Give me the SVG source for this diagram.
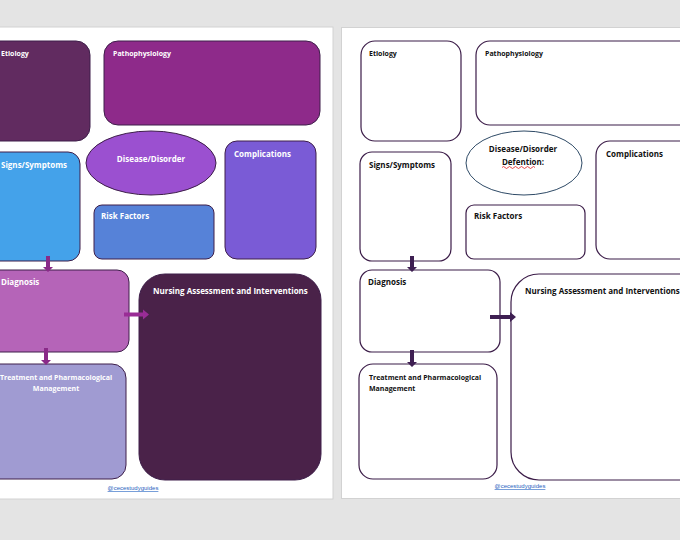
<svg xmlns="http://www.w3.org/2000/svg" width="680" height="540" viewBox="0 0 680 540">
<defs>
<style>
.lbl{font-family:"Open Sans","Liberation Sans",sans-serif;font-weight:bold;font-size:8px;fill:#ffffff}
.lblb{font-family:"Open Sans","Liberation Sans",sans-serif;font-weight:bold;font-size:8px;fill:#111111}
.s{font-size:7px}
.boxL{stroke:#3e1f4a;stroke-width:1}
.boxR{fill:#ffffff;stroke:#3b1c48;stroke-width:1.2}
.link{font-family:"Liberation Sans",sans-serif;font-size:6px;fill:#1f5fc0;text-decoration:underline}
</style>
</defs>
<rect x="0" y="0" width="680" height="540" fill="#e4e4e4"/>
<rect x="-2" y="27" width="335" height="472" fill="#ffffff" stroke="#d2d2d2"/>
<rect x="341.5" y="27.5" width="345" height="471" fill="#ffffff" stroke="#d2d2d2"/>

<g id="left-page">
<g id="L-etiology"><rect class="boxL" x="-20" y="41" width="110" height="100" rx="14" fill="#612b60"/><text class="lbl s" x="1" y="56">Etiology</text></g>
<g id="L-patho"><rect class="boxL" x="104" y="41" width="216" height="84" rx="14" fill="#8e2a8a"/><text class="lbl s" x="113" y="56">Pathophysiology</text></g>
<g id="L-disease"><ellipse class="boxL" cx="151" cy="163" rx="65" ry="32" fill="#9b50d0"/><text class="lbl" x="151" y="162" text-anchor="middle">Disease/Disorder</text></g>
<g id="L-compl"><rect class="boxL" x="225" y="141" width="91" height="118" rx="12" fill="#7a5bd6"/><text class="lbl" x="234" y="157">Complications</text></g>
<g id="L-signs"><rect class="boxL" x="-20" y="152" width="100" height="109" rx="12" fill="#44a2ea"/><text class="lbl" x="1" y="168">Signs/Symptoms</text></g>
<g id="L-risk"><rect class="boxL" x="94" y="205" width="120" height="54" rx="8" fill="#5682d8"/><text class="lbl" x="101" y="219">Risk Factors</text></g>
<g id="L-diag"><rect class="boxL" x="-20" y="270" width="149" height="82" rx="12" fill="#b564b8"/><text class="lbl" x="1" y="285">Diagnosis</text></g>
<g id="L-nursing"><rect class="boxL" x="139" y="274" width="182" height="206" rx="26" fill="#4a2249"/><text class="lbl" x="153" y="294">Nursing Assessment and Interventions</text></g>
<g id="L-treat"><rect class="boxL" x="-20" y="364" width="146" height="115" rx="14" fill="#a09bd2"/><text class="lbl s" x="56" y="380" text-anchor="middle">Treatment and Pharmacological</text><text class="lbl s" x="56" y="391" text-anchor="middle">Management</text></g>
<text class="link" x="133" y="490" text-anchor="middle">@cecestudyguides</text>
</g>

<g id="right-page">
<g id="R-etiology"><rect class="boxR" x="361" y="41" width="100" height="100" rx="14"/><text class="lblb s" x="369" y="56">Etiology</text></g>
<g id="R-patho"><rect class="boxR" x="476" y="41" width="230" height="84" rx="14"/><text class="lblb s" x="485" y="56">Pathophysiology</text></g>
<g id="R-disease"><ellipse cx="524" cy="163" rx="58" ry="32" fill="#ffffff" stroke="#2e4a66" stroke-width="1"/><text class="lblb" x="523" y="152" text-anchor="middle">Disease/Disorder</text><text class="lblb" x="523" y="165" text-anchor="middle">Defention:</text><path d="M502 167.5 q1.5 -2 3 0 t3 0 t3 0 t3 0 t3 0 t3 0 t3 0 t3 0 t3 0 t3 0 t3 0" fill="none" stroke="#e02020" stroke-width="0.8"/></g>
<g id="R-compl"><rect class="boxR" x="596" y="141" width="110" height="118" rx="14"/><text class="lblb" x="606" y="157">Complications</text></g>
<g id="R-signs"><rect class="boxR" x="360" y="152" width="91" height="109" rx="12"/><text class="lblb" x="369" y="168">Signs/Symptoms</text></g>
<g id="R-risk"><rect class="boxR" x="466" y="205" width="119" height="54" rx="8"/><text class="lblb" x="474" y="219">Risk Factors</text></g>
<g id="R-diag"><rect class="boxR" x="360" y="270" width="140" height="82" rx="12"/><text class="lblb" x="368" y="285">Diagnosis</text></g>
<g id="R-nursing"><rect class="boxR" x="511" y="274" width="200" height="206" rx="28"/><text class="lblb" x="525" y="294">Nursing Assessment and Interventions</text></g>
<g id="R-treat"><rect class="boxR" x="359" y="364" width="138" height="115" rx="14"/><text class="lblb s" x="369" y="380">Treatment and Pharmacological</text><text class="lblb s" x="369" y="391">Management</text></g>
<text class="link" x="520" y="488" text-anchor="middle">@cecestudyguides</text>
</g>

<g id="connectors">
<path d="M46 256 h4 v11 h3 l-5 5 l-5 -5 h3 z" fill="#8a2a88"/>
<path d="M44 348 h4 v12 h3 l-5 5 l-5 -5 h3 z" fill="#8a2a88"/>
<path d="M124 312.5 h19 v-3 l6 5 l-6 5 v-3 h-19 z" fill="#9a2c96"/>
<path d="M410 256 h4 v11 h3 l-5 5 l-5 -5 h3 z" fill="#3e1f52"/>
<path d="M410 350 h4 v12 h3 l-5 5 l-5 -5 h3 z" fill="#3e1f52"/>
<path d="M490 315 h20 v-3 l6 5 l-6 5 v-3 h-20 z" fill="#3e1f52"/>
</g>
</svg>
